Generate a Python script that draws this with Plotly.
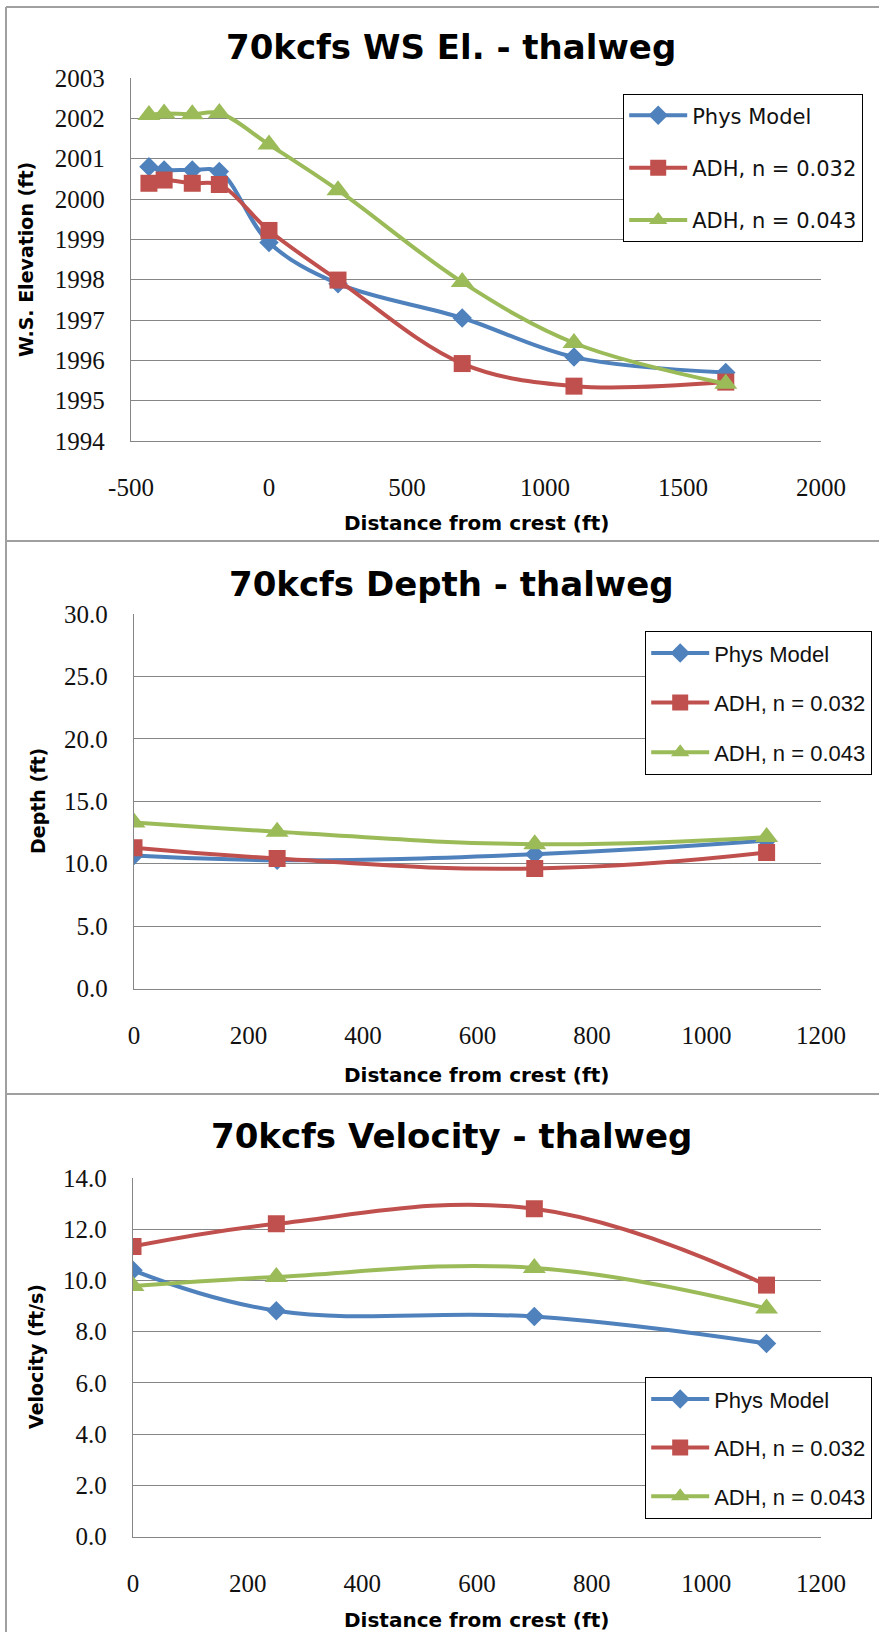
import plotly.graph_objects as go

W, H = 879, 1632

# --- Water-surface elevation along the thalweg (ft) ---
ws_x = [-435, -380, -278, -180, 0, 250, 700, 1105, 1655]
ws_phys = [2000.80, 2000.72, 2000.72, 2000.68, 1998.92, 1997.90, 1997.05, 1996.08, 1995.70]
ws_adh032 = [2000.39, 2000.47, 2000.39, 2000.36, 1999.22, 1997.99, 1995.92, 1995.36, 1995.46]
ws_adh043 = [2002.08, 2002.12, 2002.10, 2002.13, 2001.35, 2000.22, 1997.94, 1996.43, 1995.42]

# --- Depth and velocity at the downstream stations ---
st_x = [0, 250, 700, 1105]
depth_phys = [10.65, 10.28, 10.76, 11.85]
depth_adh032 = [11.28, 10.42, 9.62, 10.90]
depth_adh043 = [13.30, 12.57, 11.57, 12.14]
vel_phys = [10.40, 8.82, 8.59, 7.54]
vel_adh032 = [11.33, 12.21, 12.80, 9.82]
vel_adh043 = [9.78, 10.14, 10.49, 8.91]

# x tick labels of the elevation chart (plain hyphen for the negative value)
ws_xticks = [-500, 0, 500, 1000, 1500, 2000]
ws_xticklabels = ["-500", "0", "500", "1000", "1500", "2000"]

series_names = ["Phys Model", "ADH, n = 0.032", "ADH, n = 0.043"]
colors = ["#4F81BD", "#C0504D", "#9BBB59"]
symbols = ["diamond", "square", "triangle-up"]
msizes = [15, 17, 20]

GRID = "#868686"
TICK_FONT = dict(family="Liberation Serif", size=25, color="#111111")
BOLD = "DejaVu Sans"


def px_y(p):
    return 1 - p / H


def px_x(p):
    return p / W


fig = go.Figure()

panels = [
    dict(x=ws_x, ys=[ws_phys, ws_adh032, ws_adh043], xa="x", ya="y", leg="legend", sm=1.0),
    dict(x=st_x, ys=[depth_phys, depth_adh032, depth_adh043], xa="x2", ya="y2", leg="legend2", sm=1.3),
    dict(x=st_x, ys=[vel_phys, vel_adh032, vel_adh043], xa="x3", ya="y3", leg="legend3", sm=1.15),
]

for pi, p in enumerate(panels):
    for i, (name, ys) in enumerate(zip(series_names, p["ys"])):
        fig.add_trace(go.Scatter(
            x=p["x"], y=ys, name=name,
            mode="lines+markers",
            line=dict(color=colors[i], width=4, shape="spline", smoothing=p["sm"]),
            marker=dict(symbol=symbols[i], size=msizes[i], color=colors[i]),
            xaxis=p["xa"], yaxis=p["ya"],
            legend=p["leg"], legendgroup=f"p{pi}s{i}",
        ))

# plot-area geometry (pixels)
geo = [
    dict(l=131, r=821, t=78, b=441),
    dict(l=134, r=821, t=614, b=988.6),
    dict(l=133, r=821, t=1178, b=1536.7),
]

axis_common = dict(showgrid=False, zeroline=False, ticks="", tickfont=TICK_FONT,
                   showline=True, linecolor=GRID, linewidth=1.3, ticklabelstandoff=24)
yaxis_common = dict(showgrid=True, gridcolor=GRID, gridwidth=1.3, zeroline=False,
                    ticks="", tickfont=TICK_FONT, showline=True, linecolor=GRID,
                    linewidth=1.3, ticklabelstandoff=20)

fig.update_layout(
    xaxis=dict(axis_common, domain=[px_x(geo[0]["l"]), px_x(geo[0]["r"])],
               range=[-500, 2000], tickvals=ws_xticks, ticktext=ws_xticklabels,
               anchor="y"),
    yaxis=dict(yaxis_common, domain=[px_y(geo[0]["b"]), px_y(geo[0]["t"])],
               range=[1994, 2003], dtick=1, anchor="x"),
    xaxis2=dict(axis_common, domain=[px_x(geo[1]["l"]), px_x(geo[1]["r"])],
                range=[0, 1200], dtick=200, anchor="y2"),
    yaxis2=dict(yaxis_common, domain=[px_y(geo[1]["b"]), px_y(geo[1]["t"])],
                range=[0, 30], dtick=5, tickformat=".1f", anchor="x2"),
    xaxis3=dict(axis_common, domain=[px_x(geo[2]["l"]), px_x(geo[2]["r"])],
                range=[0, 1200], dtick=200, anchor="y3"),
    yaxis3=dict(yaxis_common, domain=[px_y(geo[2]["b"]), px_y(geo[2]["t"])],
                range=[0, 14], dtick=2, tickformat=".1f", anchor="x3"),
)

legend_common = dict(xanchor="left", yanchor="top", bgcolor="white",
                     bordercolor="#000000", borderwidth=1.2, itemwidth=58,
                     itemclick=False, itemdoubleclick=False)
fig.update_layout(
    legend=dict(legend_common, x=px_x(623), y=px_y(94), tracegroupgap=22,
                font=dict(family="DejaVu Sans", size=21, color="#111111")),
    legend2=dict(legend_common, x=px_x(645), y=px_y(631), tracegroupgap=18,
                 font=dict(family="Liberation Sans", size=22, color="#111111")),
    legend3=dict(legend_common, x=px_x(645), y=px_y(1377), tracegroupgap=17,
                 font=dict(family="Liberation Sans", size=22, color="#111111")),
)

annotations = []
titles = [
    ("70kcfs WS El. - thalweg", 47),
    ("70kcfs Depth - thalweg", 584),
    ("70kcfs Velocity - thalweg", 1136),
]
for text, yc in titles:
    annotations.append(dict(text=f"<b>{text}</b>", x=px_x(451), y=px_y(yc),
                            xref="paper", yref="paper", showarrow=False,
                            xanchor="center", yanchor="middle",
                            font=dict(family=BOLD, size=34, color="#000000")))

xtitles = [523, 1075, 1620]
for yc in xtitles:
    annotations.append(dict(text="<b>Distance from crest (ft)</b>", x=px_x(476),
                            y=px_y(yc), xref="paper", yref="paper", showarrow=False,
                            xanchor="center", yanchor="middle",
                            font=dict(family=BOLD, size=20, color="#000000")))

ytitles = [("W.S. Elevation (ft)", 26, 260), ("Depth (ft)", 38, 801),
           ("Velocity (ft/s)", 36, 1357)]
for text, xc, yc in ytitles:
    annotations.append(dict(text=f"<b>{text}</b>", x=px_x(xc), y=px_y(yc),
                            xref="paper", yref="paper", showarrow=False,
                            textangle=-90, xanchor="center", yanchor="middle",
                            font=dict(family=BOLD, size=19, color="#000000")))

BORDER = "#a0a0a0"
shapes = [
    dict(type="line", xref="paper", yref="paper", x0=px_x(6), x1=px_x(6),
         y0=0, y1=px_y(7), line=dict(color=BORDER, width=2)),
    dict(type="line", xref="paper", yref="paper", x0=px_x(6), x1=1,
         y0=px_y(7), y1=px_y(7), line=dict(color=BORDER, width=2)),
    dict(type="line", xref="paper", yref="paper", x0=px_x(6), x1=1,
         y0=px_y(541), y1=px_y(541), line=dict(color=BORDER, width=2)),
    dict(type="line", xref="paper", yref="paper", x0=px_x(6), x1=1,
         y0=px_y(1094), y1=px_y(1094), line=dict(color=BORDER, width=2)),
]

fig.update_layout(
    width=W, height=H,
    margin=dict(l=0, r=0, t=0, b=0, autoexpand=False),
    paper_bgcolor="white", plot_bgcolor="white",
    annotations=annotations, shapes=shapes,
)

fig.write_html("out.html")
